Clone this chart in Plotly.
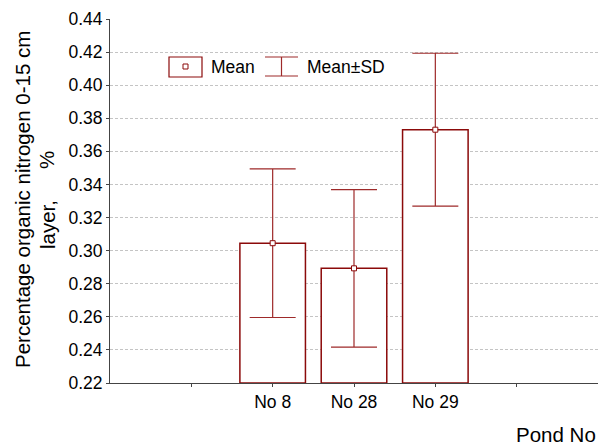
import plotly.graph_objects as go

ponds = ["No 8", "No 28", "No 29"]
means = [0.3045, 0.2893, 0.3731]
sds = [0.0449, 0.0476, 0.0462]
y_ticks = [0.22, 0.24, 0.26, 0.28, 0.30, 0.32, 0.34, 0.36, 0.38, 0.40, 0.42, 0.44]

RED = "#8B0A0A"
ERR = "#9E2A2A"
FONT = "Liberation Sans, Arial, sans-serif"

# category positions: two empty slots on the left, one on the right
xpos = [i + 2 for i in range(len(ponds))]
tickvals = [1] + xpos + [5]
ticktext = [""] + ponds + [""]

fig = go.Figure()
fig.add_trace(go.Bar(
    x=xpos, y=[m - 0.22 for m in means], base=0.22, width=0.806,
    marker=dict(color="white", line=dict(color=RED, width=1.5)),
    showlegend=False, hoverinfo="skip",
))
fig.add_trace(go.Scatter(
    x=xpos, y=means, mode="markers",
    marker=dict(symbol="square", size=5, color="white", line=dict(color=RED, width=1)),
    error_y=dict(type="data", array=sds, visible=True, color=ERR, thickness=1.2, width=23),
    showlegend=False,
))

tick_font = dict(family=FONT, size=17.5, color="black")

fig.update_layout(
    width=598, height=446,
    margin=dict(l=110, r=0, t=19, b=63),
    plot_bgcolor="white", paper_bgcolor="white",
    font=dict(family=FONT, size=17, color="black"),
    xaxis=dict(
        range=[0, 6], tickvals=tickvals, ticktext=ticktext,
        showgrid=False, zeroline=False,
        showline=True, linecolor="#444444", linewidth=1,
        ticks="outside", ticklen=3, tickcolor="#444444",
        tickfont=tick_font,
    ),
    xaxis2=dict(
        overlaying="x", side="top", range=[0, 6], tickvals=tickvals,
        showticklabels=False, showgrid=False, zeroline=False,
        showline=True, linecolor="black", linewidth=1,
        ticks="inside", ticklen=3, tickcolor="#444444",
    ),
    yaxis=dict(
        range=[0.22, 0.44], tickvals=y_ticks, tickformat=".2f",
        showgrid=True, gridcolor="#C4C4C4", griddash="3px,2px", gridwidth=1,
        zeroline=False,
        showline=True, linecolor="#444444", linewidth=1,
        ticks="outside", ticklen=3, tickcolor="#444444",
        tickfont=tick_font,
    ),
    yaxis2=dict(
        overlaying="y", side="right", range=[0.22, 0.44], tickvals=y_ticks,
        showticklabels=False, showgrid=False, zeroline=False,
        showline=True, linecolor="black", linewidth=1,
        ticks="inside", ticklen=3, tickcolor="#444444",
    ),
)


def px2paper(px, py):
    return (px - 110) / 488, (383 - py) / 364


title_font = dict(family=FONT, size=20.5, color="black")

# y axis title (three pieces as in the reference)
ax, ay = px2paper(22, 200)
fig.add_annotation(xref="paper", yref="paper", x=ax, y=ay, text="Percentage organic nitrogen 0-15 cm",
                   textangle=-90, showarrow=False, xanchor="center", yanchor="middle", font=title_font)
lx, ly = px2paper(47, 225)
fig.add_annotation(xref="paper", yref="paper", x=lx, y=ly, text="layer,",
                   textangle=-90, showarrow=False, xanchor="center", yanchor="middle", font=title_font)
px_, py_ = px2paper(47, 160)
fig.add_annotation(xref="paper", yref="paper", x=px_, y=py_, text="%",
                   textangle=-90, showarrow=False, xanchor="center", yanchor="middle", font=title_font)

# legend drawn manually
x0, y0 = px2paper(169, 77)
x1, y1 = px2paper(202, 57)
fig.add_shape(type="rect", xref="paper", yref="paper", x0=x0, y0=y0, x1=x1, y1=y1,
              line=dict(color=RED, width=1.2), fillcolor="white")
sx0, sy0 = px2paper(183, 69)
sx1, sy1 = px2paper(188, 64)
fig.add_shape(type="rect", xref="paper", yref="paper", x0=sx0, y0=sy0, x1=sx1, y1=sy1,
              line=dict(color=RED, width=1), fillcolor="white")
tx, ty = px2paper(209, 67)
legend_font = dict(family=FONT, size=17.5, color="black")
fig.add_annotation(xref="paper", yref="paper", x=tx, y=ty, text="Mean", showarrow=False,
                   xanchor="left", yanchor="middle", font=legend_font)
ex0, etop = px2paper(265, 57)
ex1, ebot = px2paper(298, 76)
exm, _ = px2paper(281.5, 0)
for yy in (etop, ebot):
    fig.add_shape(type="line", xref="paper", yref="paper", x0=ex0, x1=ex1, y0=yy, y1=yy,
                  line=dict(color=ERR, width=1.2))
fig.add_shape(type="line", xref="paper", yref="paper", x0=exm, x1=exm, y0=ebot, y1=etop,
              line=dict(color=ERR, width=1.2))
tx2, _ = px2paper(305, 67)
fig.add_annotation(xref="paper", yref="paper", x=tx2, y=ty, text="Mean±SD", showarrow=False,
                   xanchor="left", yanchor="middle", font=legend_font)

# x axis title at bottom right
nx, ny = px2paper(598, 434)
fig.add_annotation(xref="paper", yref="paper", x=nx, y=ny, text="Pond No",
                   showarrow=False, xanchor="right", yanchor="middle", font=title_font)

fig.write_html("out.html", config={"displayModeBar": False},
               post_script="document.body.style.margin='0';")
